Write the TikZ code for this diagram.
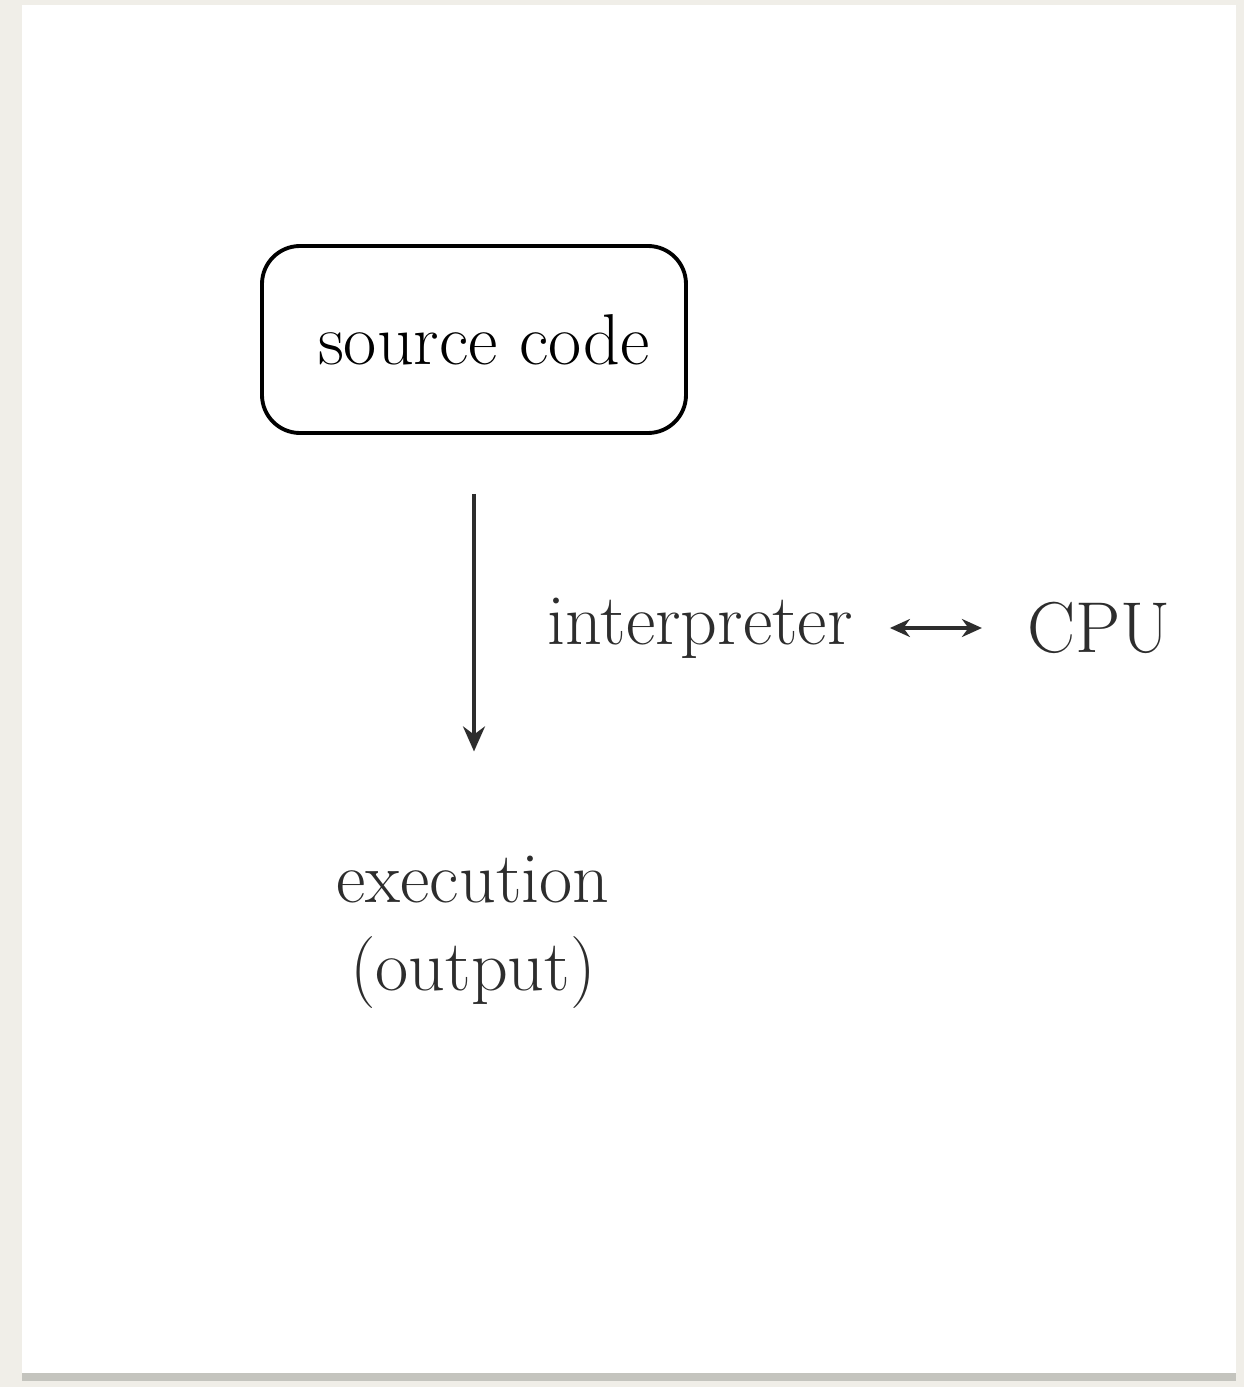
\documentclass[tikz,border=0pt]{standalone}
\usepackage{tikz}
\usetikzlibrary{arrows.meta, positioning}
\usepackage{xcolor}
\definecolor{pagebg}{RGB}{240, 238, 232}
\definecolor{cardshade}{RGB}{196, 196, 190}
\definecolor{inkgray}{RGB}{45, 45, 45}
\tikzset{
  srcbox/.style={draw=black, line width=1.1pt, rounded corners=0.38cm,
    minimum width=4.24cm, minimum height=1.87cm, font=\fontsize{20.5}{25}\selectfont},
  plaintext/.style={font=\fontsize{20.5}{25}\selectfont, text=inkgray, align=center},
  flow/.style={-{Stealth[length=0.25cm, width=0.22cm]}, inkgray, line width=0.9pt},
  link/.style={{Stealth[length=0.2cm, width=0.18cm]}-{Stealth[length=0.2cm, width=0.18cm]}, inkgray, line width=0.9pt}
}

\begin{document}
\begin{tikzpicture}
  % page and card
  \useasboundingbox (0,0) rectangle (12.44,13.87);
  \fill[pagebg] (0,0) rectangle (12.44,13.87);
  \fill[cardshade] (0.22,0.06) rectangle (12.36,0.16);
  \fill[white] (0.22,0.14) rectangle (12.36,13.82);

  % nodes
  \node[srcbox] (src) at (4.74,10.475) {\hspace*{0.2cm}source code};
  \node[plaintext] (interp) at (7.0,7.59) {interpreter};
  \node[plaintext] (cpu) at (10.99,7.59) {CPU};
  \node[plaintext] (exec) at (4.73,4.55) {execution\\(output)};

  % connectors
  \draw[flow, shorten <=0.59cm, shorten >=0.92cm] (src.south) -- (src.south |- exec.north);
  \draw[link, shorten <=0.25cm, shorten >=0.33cm] (interp) -- (cpu);
\end{tikzpicture}
\end{document}
